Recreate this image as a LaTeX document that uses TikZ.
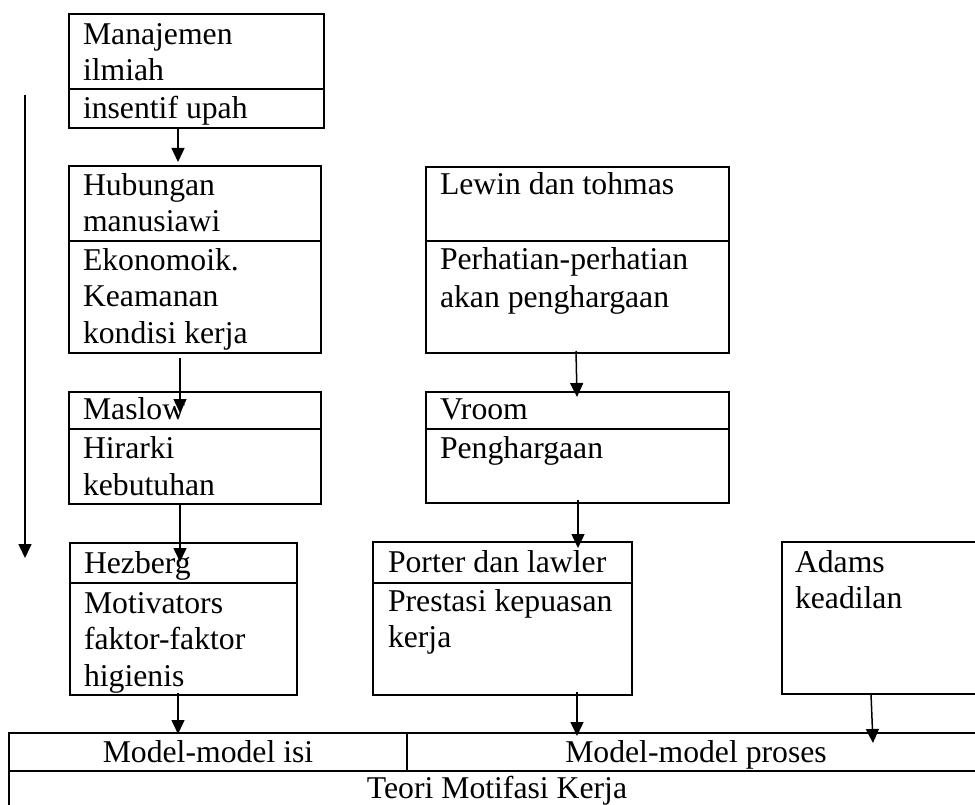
\documentclass[tikz,border=0pt]{standalone}
\usepackage{fontspec}
\setmainfont{Liberation Serif}
\usetikzlibrary{arrows.meta,calc}
\begin{document}
\begin{tikzpicture}[x=1pt,y=-1pt,
  sect/.style={draw,line width=1.1pt,inner sep=0pt,outer sep=0pt},
  txt/.style={anchor=base west,inner sep=0pt,outer sep=0pt,font=\fontsize{31.7}{36}\selectfont},
  ctxt/.style={anchor=base,inner sep=0pt,outer sep=0pt,font=\fontsize{31.7}{36}\selectfont},
  arr/.style={line width=1.5pt,-{Triangle[width=13pt,length=14pt]}}]
\useasboundingbox (0,0) rectangle (975,805);
\clip (0,0) rectangle (975,805);
\fill[white] (0,0) rectangle (975,805);
% sections (drawn as rectangles through named nodes)
\node[sect,fit/.style={},minimum width=255pt,minimum height=75pt,anchor=north west] (mA) at (69,14) {};
\node[sect,minimum width=255pt,minimum height=39pt,anchor=north west] (mB) at (69,89) {};
\node[sect,minimum width=252pt,minimum height=75pt,anchor=north west] (hA) at (69,166) {};
\node[sect,minimum width=252pt,minimum height=112pt,anchor=north west] (hB) at (69,241) {};
\node[sect,minimum width=252pt,minimum height=37pt,anchor=north west] (sA) at (69,392) {};
\node[sect,minimum width=252pt,minimum height=75pt,anchor=north west] (sB) at (69,429) {};
\node[sect,minimum width=227pt,minimum height=40pt,anchor=north west] (zA) at (70,543) {};
\node[sect,minimum width=227pt,minimum height=112pt,anchor=north west] (zB) at (70,583) {};
\node[sect,minimum width=303pt,minimum height=74pt,anchor=north west] (lA) at (426,167) {};
\node[sect,minimum width=303pt,minimum height=112pt,anchor=north west] (lB) at (426,241) {};
\node[sect,minimum width=303pt,minimum height=37pt,anchor=north west] (vA) at (426,392) {};
\node[sect,minimum width=303pt,minimum height=74pt,anchor=north west] (vB) at (426,429) {};
\node[sect,minimum width=259pt,minimum height=41pt,anchor=north west] (pA) at (373,542) {};
\node[sect,minimum width=259pt,minimum height=112pt,anchor=north west] (pB) at (373,583) {};
\node[sect,minimum width=230pt,minimum height=152pt,anchor=north west] (aA) at (782,542) {};
\node[sect,minimum width=398pt,minimum height=38pt,anchor=north west] (tL) at (9,733) {};
\node[sect,minimum width=578pt,minimum height=38pt,anchor=north west] (tR) at (407,733) {};
\node[sect,minimum width=976pt,minimum height=60pt,anchor=north west] (tB) at (9,771) {};
% texts
\node[txt] (t1) at (83,45) {Manajemen};
\node[txt] (t2) at (83,81) {ilmiah};
\node[txt] (t3) at (83,119) {insentif upah};
\node[txt] (t4) at (83,196) {Hubungan};
\node[txt] (t5) at (83,232) {manusiawi};
\node[txt] (t6) at (83,271) {Ekonomoik.};
\node[txt] (t7) at (83,306) {Keamanan};
\node[txt] (t8) at (83,343) {kondisi kerja};
\node[txt] (t9) at (83,419) {Maslow};
\node[txt] (t10) at (83,458) {Hirarki};
\node[txt] (t11) at (83,495) {kebutuhan};
\node[txt] (t12) at (84,573) {Hezberg};
\node[txt] (t13) at (84,613) {Motivators};
\node[txt] (t14) at (84,649) {faktor-faktor};
\node[txt] (t15) at (84,686) {higienis};
\node[txt] (t16) at (440,195) {Lewin dan tohmas};
\node[txt] (t17) at (440,270) {Perhatian-perhatian};
\node[txt] (t18) at (440,307) {akan penghargaan};
\node[txt] (t19) at (440,419) {Vroom};
\node[txt] (t20) at (440,458) {Penghargaan};
\node[txt] (t21) at (388,572) {Porter dan lawler};
\node[txt] (t22) at (388,611) {Prestasi kepuasan};
\node[txt] (t23) at (388,647) {kerja};
\node[txt] (t24) at (795,572) {Adams};
\node[txt] (t25) at (795,608) {keadilan};
\node[ctxt] (t26) at (208,762) {Model-model isi};
\node[ctxt] (t27) at (696,762) {Model-model proses};
\node[ctxt] (t28) at (497,798) {Teori Motifasi Kerja};
% connectors
\draw[arr] ($(mB.south west)+(109,0)$) -- ($(hA.north west)+(109,-4)$);
\draw[arr] ($(hB.south west)+(111,5)$) -- ($(sA.north west)+(111,21)$);
\draw[arr] ($(sB.south west)+(111,1)$) -- ($(zA.north west)+(110,19)$);
\draw[arr] ($(lB.south west)+(150,-2)$) -- ($(vA.north west)+(151,5)$);
\draw[arr] ($(vB.south west)+(152,-3)$) -- ($(pA.north west)+(205,6)$);
\draw[arr] ($(zB.south west)+(108,-2)$) -- ($(tL.north west)+(169,1)$);
\draw[arr] ($(pB.south west)+(204,-3)$) -- ($(tR.north west)+(170,3)$);
\draw[arr] ($(aA.south west)+(89,0)$) -- ($(tR.north west)+(466,10)$);
\coordinate (Ls) at (25,95);
\coordinate (Le) at (25,558);
\draw[arr] (Ls) -- (Le);
\end{tikzpicture}
\end{document}
